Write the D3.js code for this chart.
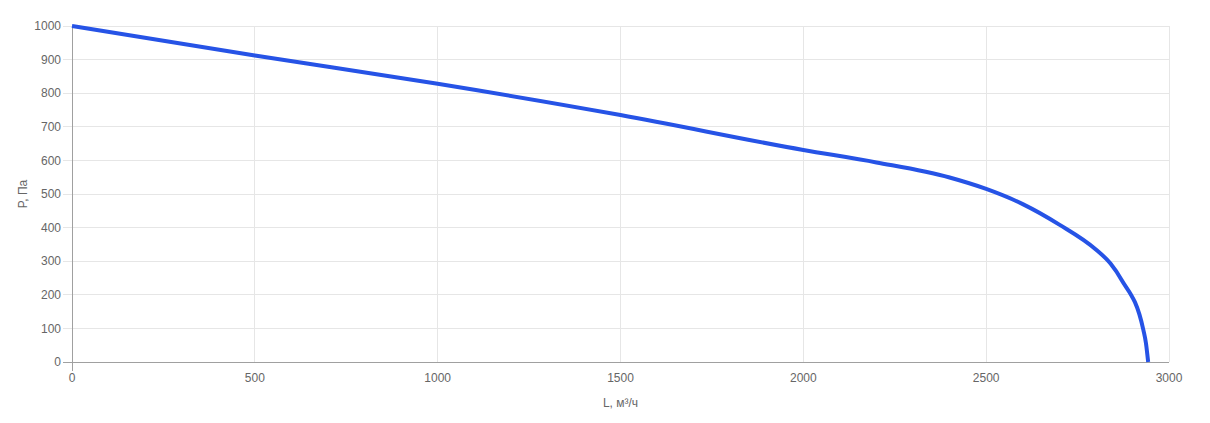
<!DOCTYPE html>
<html><head><meta charset="utf-8">
<script src="https://cdn.jsdelivr.net/npm/d3@7/dist/d3.min.js"></script>
<style>
body{margin:0;background:#fff;}
text{font-family:"Liberation Sans",Arial,Helvetica,sans-serif;font-size:12px;fill:#666;}
</style></head>
<body><svg id="c" width="1210" height="423"></svg>
<script>
const flowL = [0, 500, 1000, 1500, 2000, 2200, 2400, 2500, 2600, 2700, 2800, 2840, 2870, 2930, 2937, 2943];
const pressureP = [1000, 912, 828, 735, 631, 594, 549, 515, 470, 409, 335, 293, 245, 95, 56, 0];
const xTicks = [0, 500, 1000, 1500, 2000, 2500, 3000];
const yTicks = [0, 100, 200, 300, 400, 500, 600, 700, 800, 900, 1000];
const xTitle = "L, м³/ч";
const yTitle = "P, Па";

const W = 1210, H = 423;
const m = {l:72, r:41, t:26, b:61};
const svg = d3.select("#c");
const x = d3.scaleLinear().domain([0,3000]).range([m.l, W-m.r]);
const y = d3.scaleLinear().domain([0,1000]).range([H-m.b, m.t]);

// grid
svg.append("g").selectAll("line").data(yTicks.filter(d=>d>0)).join("line")
  .attr("x1", x(0)).attr("x2", x(3000)).attr("y1", d=>y(d)).attr("y2", d=>y(d))
  .attr("stroke", "#e6e6e6").attr("stroke-width", 1).attr("shape-rendering","crispEdges");
svg.append("g").selectAll("line").data(xTicks.filter(d=>d>0)).join("line")
  .attr("x1", d=>x(d)).attr("x2", d=>x(d)).attr("y1", y(0)).attr("y2", y(1000))
  .attr("stroke", "#e6e6e6").attr("stroke-width", 1).attr("shape-rendering","crispEdges");

// y ticks
svg.append("g").selectAll("line").data(yTicks).join("line")
  .attr("x1", x(0)-9).attr("x2", x(0)).attr("y1", d=>y(d)).attr("y2", d=>y(d))
  .attr("stroke", d=> d===0 ? "#a0a0a0" : "#e6e6e6").attr("shape-rendering","crispEdges");

// axis lines
svg.append("line").attr("x1", x(0)).attr("x2", x(0)).attr("y1", y(1000)).attr("y2", y(0)+9)
  .attr("stroke", "#a0a0a0").attr("shape-rendering","crispEdges");
svg.append("line").attr("x1", x(0)).attr("x2", x(3000)).attr("y1", y(0)).attr("y2", y(0))
  .attr("stroke", "#a0a0a0").attr("shape-rendering","crispEdges");

// tick labels
svg.append("g").selectAll("text").data(yTicks).join("text")
  .attr("x", x(0)-11).attr("y", d=>y(d)).attr("dy","0.35em").attr("text-anchor","end").text(d=>d);
svg.append("g").selectAll("text").data(xTicks).join("text")
  .attr("x", d=>x(d)).attr("y", y(0)+20).attr("text-anchor","middle").text(d=>d);

// titles
svg.append("text").attr("x", (x(0)+x(3000))/2).attr("y", 407).attr("text-anchor","middle").text(xTitle);
svg.append("text").attr("transform", `translate(27,${(y(0)+y(1000))/2}) rotate(-90)`).attr("text-anchor","middle").text(yTitle);

// curve
const pts = flowL.map((v,i)=>[v, pressureP[i]]);
const line = d3.line().x(d=>x(d[0])).y(d=>y(d[1])).curve(d3.curveMonotoneX);
svg.append("path").attr("d", line(pts)).attr("fill","none")
  .attr("stroke","#2653e6").attr("stroke-width",4).attr("stroke-linejoin","round");
</script></body></html>
